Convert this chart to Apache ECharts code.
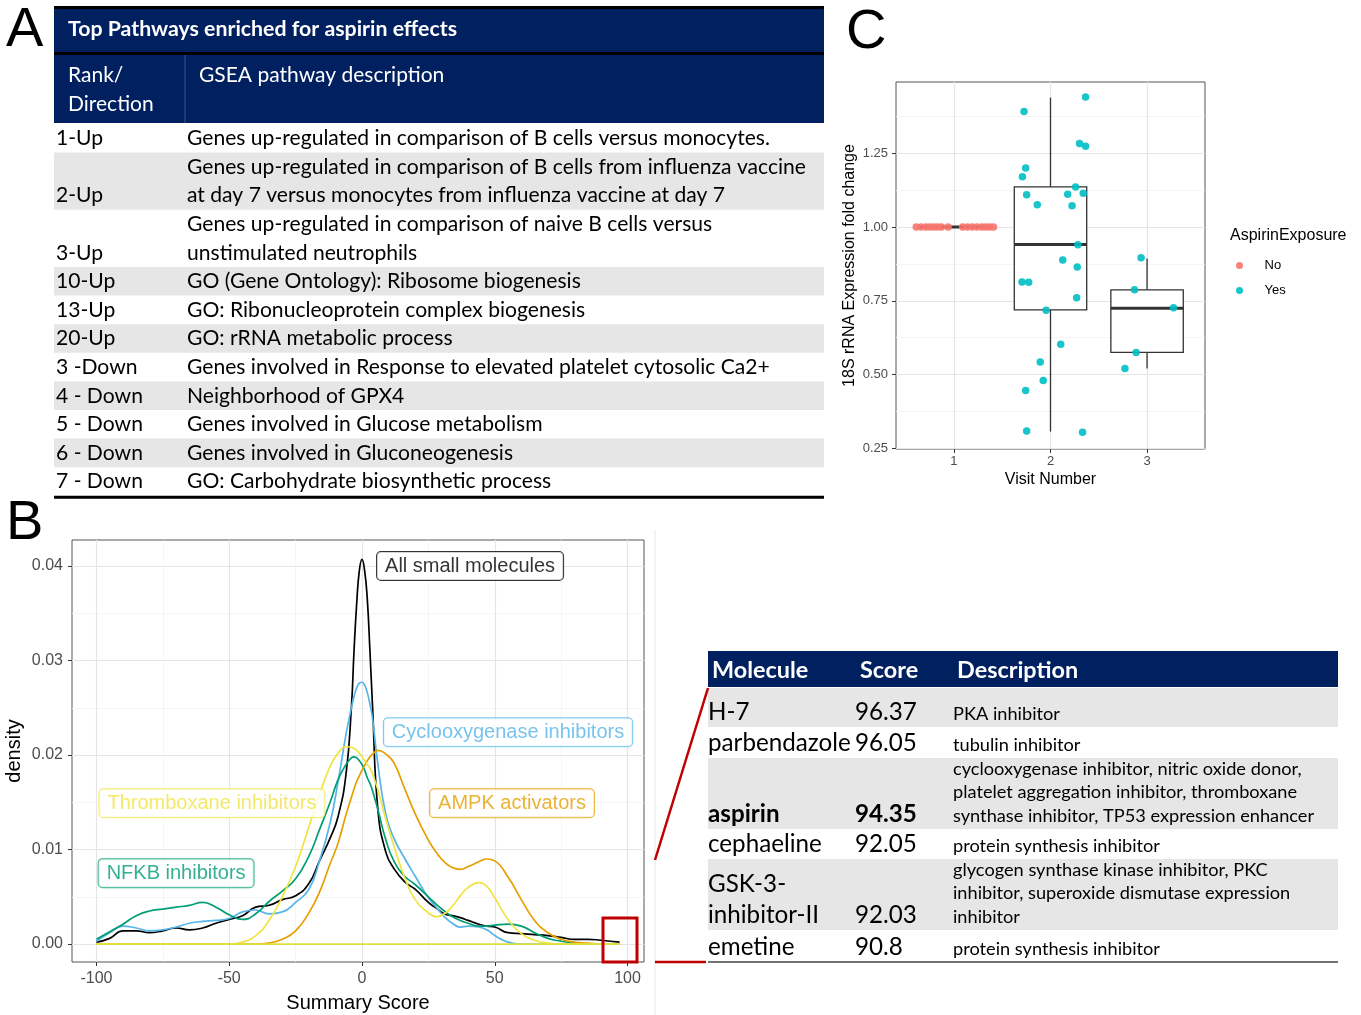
<!DOCTYPE html>
<html>
<head>
<meta charset="utf-8">
<script src="https://cdn.jsdelivr.net/npm/echarts/dist/echarts.min.js"></script>
<style>
html, body { margin: 0; padding: 0; background: #fff; }
#main { width: 1361px; height: 1015px; }
</style>
</head>
<body>
<div id="main"></div>
<script>
// panel A table
var pathwayRank = ['1-Up', '2-Up', '3-Up', '10-Up', '13-Up', '20-Up', '3 -Down', '4 - Down', '5 - Down', '6 - Down', '7 - Down'];
var pathwayDesc = [
	['Genes up-regulated in comparison of B cells versus monocytes.'],
	['Genes up-regulated in comparison of B cells from influenza vaccine', 'at day 7 versus monocytes from influenza vaccine at day 7'],
	['Genes up-regulated in comparison of naive B cells versus', 'unstimulated neutrophils'],
	['GO (Gene Ontology): Ribosome biogenesis'],
	['GO: Ribonucleoprotein complex biogenesis'],
	['GO: rRNA metabolic process'],
	['Genes involved in Response to elevated platelet cytosolic Ca2+'],
	['Neighborhood of GPX4'],
	['Genes involved in Glucose metabolism'],
	['Genes involved in Gluconeogenesis'],
	['GO: Carbohydrate biosynthetic process']
];

// panel B densities
var scoreGrid = [-100, -95, -90, -85, -80, -75, -70, -65, -60, -55, -50, -45, -40, -35, -30, -25, -20, -16, -12, -9, -6, -4, -3, -2, -1,
	0, 1, 2, 3, 4, 6, 9, 12, 16, 20, 25, 28, 31, 34, 37, 40, 44, 47, 50, 55, 60, 65, 70, 75, 80, 85, 90, 97];
var allDensity = [.0002, .0006, .0014, .0014, .0012, .0014, .0017, .0015, .0017, .0022, .0026, .0030, .0039, .0041, .0047, .0051, .0064, .0088, .0112, .0135, .0180, .0250, .0310, .0360, .0395,
	.0407, .0395, .0365, .0310, .0250, .0142, .0097, .0080, .0066, .0058, .0044, .0038, .0032, .0030, .0028, .0025, .0021, .0019, .0018,
	.0012, .0011, .0010, .0009, .0007, .0005, .0005, .0004, .0002];
var coxDensity = [.0003, .0012, .0019, .0017, .0014, .0015, .0018, .0022, .0024, .0025, .0027, .0034, .0036, .0032, .0034, .0044, .0058, .0088, .0128, .0172, .0222, .0250, .0262, .0271, .0276,
	.0277, .0274, .0266, .0254, .0238, .0190, .0137, .0112, .0091, .0072, .0049, .0039, .0029, .0022, .0018, .0019, .0018, .0015, .0009,
	.0002, 0, 0, 0, 0, 0, 0, 0, 0];
var nfkbDensity = [.0005, .0013, .0021, .0030, .0035, .0037, .0039, .0041, .0044, .0039, .0031, .0026, .0032, .0045, .0056, .0069, .0093, .0121, .0150, .0174, .0190, .0197, .0198, .0197, .0194,
	.0190, .0184, .0176, .0170, .0162, .0142, .0110, .0088, .0072, .0063, .0050, .0042, .0035, .0029, .0025, .0022, .0019, .0019, .0020,
	.0021, .0019, .0012, .0006, .0003, .0001, 0, 0, 0];
var ampkDensity = [0, 0, 0, 0, 0, 0, 0, 0, 0, 0, 0, 0, 0, .0001, .0005, .0014, .0033, .0055, .0085, .0107, .0137, .0155, .0164, .0172, .0178,
	.0184, .0189, .0194, .0198, .0201, .0205, .0201, .0192, .0165, .0138, .0110, .0097, .0087, .0081, .0079, .0082, .0087, .0090, .0088,
	.0071, .0047, .0025, .0012, .0005, .0002, .0001, 0, 0];
var thrombDensity = [0, 0, 0, 0, 0, 0, 0, 0, 0, 0, 0, .0002, .0009, .0025, .0050, .0082, .0124, .0158, .0188, .0202, .0209, .0208, .0207, .0205, .0202,
	.0198, .0194, .0190, .0186, .0180, .0163, .0132, .0104, .0071, .0047, .0033, .0029, .0032, .0040, .0051, .0060, .0065, .0061, .0049,
	.0026, .0011, .0004, .0001, 0, 0, 0, 0, 0];
var scoreTicks = [-100, -50, 0, 50, 100];
var scoreMinor = [-75, -25, 25, 75];
var densityTicks = [0, 0.01, 0.02, 0.03, 0.04];
var densityMinor = [0.005, 0.015, 0.025, 0.035];

var labelText = ['All small molecules', 'Cyclooxygenase inhibitors', 'Thromboxane inhibitors', 'AMPK activators', 'NFKB inhibitors'];
var labelX = [40.7, 55, -56.5, 56.5, -70];
var labelY = [0.04, 0.0224, 0.0149, 0.0149, 0.0075];

// panel B table
var molName = [['H-7'], ['parbendazole'], ['aspirin'], ['cephaeline'], ['GSK-3-', 'inhibitor-II'], ['emetine']];
var molScore = [96.37, 96.05, 94.35, 92.05, 92.03, 90.8];
var molDesc = [
	['PKA inhibitor'],
	['tubulin inhibitor'],
	['cyclooxygenase inhibitor, nitric oxide donor,', 'platelet aggregation inhibitor, thromboxane', 'synthase inhibitor, TP53 expression enhancer'],
	['protein synthesis inhibitor'],
	['glycogen synthase kinase inhibitor, PKC', 'inhibitor, superoxide dismutase expression', 'inhibitor'],
	['protein synthesis inhibitor']
];

// panel C
var noX = [0.61, 0.66, 0.71, 0.75, 0.79, 0.83, 0.87, 0.94, 1.09, 1.14, 1.19, 1.24, 1.29, 1.33, 1.37, 1.41];
var noY = [1, 1, 1, 1, 1, 1, 1, 1, 1, 1, 1, 1, 1, 1, 1, 1];
var yesX = [1.726, 2.363, 2.301, 2.363, 1.743, 1.709, 1.753, 1.863, 2.178, 2.260, 2.223, 2.339, 2.284, 2.127, 2.277, 1.705, 1.774, 2.271, 1.955, 2.106, 1.894, 1.925, 1.743, 1.753, 2.332,
	2.938, 2.870, 3.274, 2.887, 2.771];
var yesY = [1.391, 1.440, 1.283, 1.273, 1.200, 1.170, 1.109, 1.075, 1.111, 1.135, 1.072, 1.114, 0.940, 0.888, 0.864, 0.814, 0.813, 0.760, 0.718, 0.603, 0.543, 0.480, 0.446, 0.309, 0.305,
	0.896, 0.787, 0.726, 0.575, 0.521];
var boxVisit = [1, 2, 3];
var boxLow = [1, 0.307, 0.521];
var boxQ1 = [1, 0.719, 0.575];
var boxMed = [1, 0.941, 0.725];
var boxQ3 = [1, 1.136, 0.787];
var boxHigh = [1, 1.438, 0.893];
var visitTicks = [1, 2, 3];
var foldTicks = [0.25, 0.5, 0.75, 1, 1.25];
var foldMinor = [0.375, 0.625, 0.875, 1.125, 1.375];

var NAVY = '#002060';
var ROWGRAY = '#e6e6e6';
var TFONT = 'Lato';
var PFONT = 'Liberation Sans';

function txt(text, x, y, font, color, align) {
	return {
		type: 'text', z: 100,
		style: {
			text: text, x: x, y: y, font: font, fill: color || '#000',
			align: align || 'left', textAlign: align || 'left',
			verticalAlign: 'middle', textVerticalAlign: 'middle'
		}
	};
}
function box(x, y, w, h, color) {
	return { type: 'rect', z: 90, shape: { x: x, y: y, width: w, height: h }, style: { fill: color } };
}
function seg(x1, y1, x2, y2, color, width) {
	return { type: 'line', z: 95, shape: { x1: x1, y1: y1, x2: x2, y2: y2 }, style: { stroke: color, lineWidth: width } };
}

var graphics = [];

// 表 A
graphics.push(box(54, 6, 770, 3, '#000'));
graphics.push(box(54, 9, 770, 43, NAVY));
graphics.push(box(54, 52, 770, 3, '#000'));
graphics.push(box(54, 55, 770, 68, NAVY));
graphics.push(seg(185, 55, 185, 123, '#3a5186', 1));
graphics.push(txt('Top Pathways enriched for aspirin effects', 68, 29, 'bold 21.3px ' + TFONT, '#fff'));
graphics.push(txt('Rank/', 68, 75, '21px ' + TFONT, '#fff'));
graphics.push(txt('Direction', 68, 104, '21px ' + TFONT, '#fff'));
graphics.push(txt('GSEA pathway description', 199, 75, '21px ' + TFONT, '#fff'));

var ROW_H = 28.6;
var rowY = 124;
for (var i = 0; i < pathwayRank.length; i++) {
	var lines = pathwayDesc[i];
	var h = ROW_H * lines.length;
	if (i % 2 === 1) {
		graphics.push(box(54, rowY, 770, h, ROWGRAY));
	}
	for (var j = 0; j < lines.length; j++) {
		graphics.push(txt(lines[j], 187, rowY + ROW_H * (j + 0.5), '21.1px ' + TFONT));
	}
	graphics.push(txt(pathwayRank[i], 56, rowY + h - ROW_H / 2, '21.1px ' + TFONT));
	rowY += h;
}
graphics.push(box(54, rowY, 770, 3, '#000'));

// 右下表
var molRowH = [39, 31, 71, 30, 71, 32];
graphics.push(box(708, 651, 630, 36, NAVY));
graphics.push(txt('Molecule', 712, 670, 'bold 23.4px ' + TFONT, '#fff'));
graphics.push(txt('Score', 860, 670, 'bold 23.4px ' + TFONT, '#fff'));
graphics.push(txt('Description', 957, 670, 'bold 23.4px ' + TFONT, '#fff'));
var my = 688;
for (var i = 0; i < molName.length; i++) {
	var bottom = my + molRowH[i];
	if (i % 2 === 0) {
		graphics.push(box(708, my, 630, molRowH[i], ROWGRAY));
	}
	var weight = molName[i][0] === 'aspirin' ? 'bold ' : '';
	var names = molName[i];
	for (var j = 0; j < names.length; j++) {
		graphics.push(txt(names[j], 708, bottom - 15 - 31 * (names.length - 1 - j), weight + '24.2px ' + TFONT));
	}
	graphics.push(txt(String(molScore[i]), 855, bottom - 15, weight + '24.2px ' + TFONT));
	var ds = molDesc[i];
	for (var j = 0; j < ds.length; j++) {
		graphics.push(txt(ds[j], 953, bottom - 13 - 23.5 * (ds.length - 1 - j), '18.2px ' + TFONT));
	}
	my = bottom;
}
graphics.push(seg(708, 962, 1338, 962, '#444', 1.5));

// 连接线和红框
graphics.push(seg(655, 530, 655, 1015, '#e8e8e8', 1));
graphics.push({ type: 'rect', z: 96, shape: { x: 603, y: 918, width: 34, height: 44 }, style: { fill: 'none', stroke: '#c00000', lineWidth: 3 } });
graphics.push(seg(655, 860, 708, 688, '#c00000', 2.5));
graphics.push(seg(655, 962, 706, 962, '#c00000', 2.5));

// 面板字母
['A', 'B', 'C'].forEach(function (l, k) {
	var pos = [[6, 31], [6, 524], [846, 33]][k];
	graphics.push({
		type: 'text', z: 100,
		style: {
			text: l, x: pos[0], y: pos[1], font: '56px ' + PFONT, fill: '#000',
			verticalAlign: 'middle', textVerticalAlign: 'middle',
			shadowColor: 'rgba(0,0,0,0.35)', shadowBlur: 3, shadowOffsetX: 2, shadowOffsetY: 2
		}
	});
});
graphics.push(txt('AspirinExposure', 1230, 236, '16px ' + PFONT, '#000'));

function majorAxis(grid, min, max, ticks, fmt, size, margin) {
	return {
		gridIndex: grid, type: 'value', min: min, max: max,
		axisLine: { show: false, onZero: false },
		axisTick: { show: true, length: 4, lineStyle: { color: '#333' }, customValues: ticks },
		axisLabel: { customValues: ticks, color: '#4d4d4d', fontSize: size, fontFamily: PFONT, margin: margin, formatter: fmt },
		splitLine: { show: true, lineStyle: { color: '#e5e5e5', width: 1.2 } }
	};
}
function minorAxis(grid, min, max, ticks) {
	return {
		gridIndex: grid, type: 'value', min: min, max: max,
		axisLine: { show: false, onZero: false },
		axisTick: { show: false, customValues: ticks },
		axisLabel: { show: false, customValues: ticks },
		splitLine: { show: true, lineStyle: { color: '#f2f2f2', width: 0.8 } }
	};
}
function fix2(v) { return v.toFixed(2); }

var bx = majorAxis(0, -109.2, 106.2, scoreTicks, null, 16, 9);
bx.name = 'Summary Score';
bx.nameLocation = 'middle';
bx.nameGap = 31;
bx.nameTextStyle = { fontSize: 20, color: '#000', fontFamily: PFONT };
var by = majorAxis(0, -0.0019, 0.04275, densityTicks, fix2, 16, 9);
by.name = 'density';
by.nameLocation = 'middle';
by.nameGap = 48;
by.nameTextStyle = { fontSize: 20, color: '#000', fontFamily: PFONT };
var cx = majorAxis(1, 0.4, 3.6, visitTicks, null, 13, 6);
cx.name = 'Visit Number';
cx.nameLocation = 'middle';
cx.nameGap = 23;
cx.nameTextStyle = { fontSize: 16, color: '#000', fontFamily: PFONT };
var cy = majorAxis(1, 0.248, 1.491, foldTicks, fix2, 13, 8);
cy.name = '18S rRNA Expression fold change';
cy.nameLocation = 'middle';
cy.nameGap = 38;
cy.nameTextStyle = { fontSize: 16, color: '#000', fontFamily: PFONT };

function densitySeries(name, values, color) {
	var data = [];
	for (var i = 0; i < scoreGrid.length; i++) {
		data.push([scoreGrid[i], values[i]]);
	}
	return {
		name: name, type: 'line', xAxisIndex: 0, yAxisIndex: 0,
		data: data, showSymbol: false, smooth: 0.5,
		lineStyle: { color: color, width: 1.7 }, itemStyle: { color: color },
		silent: true
	};
}

var labelColor = ['#000000', '#56B4E9', '#F0E442', '#E69F00', '#009E73'];
var labelData = labelText.map(function (t, i) {
	return {
		value: [labelX[i], labelY[i]],
		label: { formatter: t, color: labelColor[i], borderColor: labelColor[i] }
	};
});

var myChart = echarts.init(document.getElementById('main'));
myChart.setOption({
	animation: false,
	textStyle: { fontFamily: PFONT },
	grid: [
		{ left: 72, top: 540, width: 572, height: 422, show: true, borderColor: '#555', borderWidth: 1, backgroundColor: '#fff' },
		{ left: 896, top: 82, width: 309, height: 367, show: true, borderColor: '#555', borderWidth: 1, backgroundColor: '#fff' }
	],
	legend: {
		data: ['No', 'Yes'], orient: 'vertical', left: 1231, top: 254,
		itemWidth: 24, itemHeight: 7, itemGap: 12, icon: 'circle', selectedMode: false,
		textStyle: { fontSize: 13, color: '#000', fontFamily: PFONT, padding: [0, 0, 0, 8] }
	},
	xAxis: [bx, minorAxis(0, -109.2, 106.2, scoreMinor), cx],
	yAxis: [by, minorAxis(0, -0.0019, 0.04275, densityMinor), cy, minorAxis(1, 0.248, 1.491, foldMinor)],
	graphic: graphics,
	series: [
		densitySeries('All small molecules', allDensity, '#000000'),
		densitySeries('Cyclooxygenase inhibitors', coxDensity, '#56B4E9'),
		densitySeries('NFKB inhibitors', nfkbDensity, '#009E73'),
		densitySeries('AMPK activators', ampkDensity, '#E69F00'),
		densitySeries('Thromboxane inhibitors', thrombDensity, '#F0E442'),
		{
			name: 'baseline', type: 'line', xAxisIndex: 0, yAxisIndex: 0, showSymbol: false, silent: true,
			data: [[scoreGrid[0], 0], [scoreGrid[scoreGrid.length - 1], 0]],
			lineStyle: { color: '#dfe03f', width: 1.8 }
		},
		{
			name: 'labels', type: 'scatter', xAxisIndex: 0, yAxisIndex: 0, silent: true,
			symbolSize: 1, itemStyle: { color: 'rgba(0,0,0,0)' }, z: 20,
			label: {
				show: true, position: 'inside', fontSize: 20, fontFamily: PFONT,
				backgroundColor: '#fff', borderWidth: 1, borderRadius: 4, padding: [4, 8]
			},
			data: labelData
		},
		{
			name: 'box', type: 'custom', xAxisIndex: 2, yAxisIndex: 2, silent: true,
			encode: { x: 0, y: [1, 2, 3, 4, 5] },
			data: boxVisit.map(function (v, i) {
				return [v, boxLow[i], boxQ1[i], boxMed[i], boxQ3[i], boxHigh[i]];
			}),
			renderItem: function (params, api) {
				var x = api.value(0);
				var lo = api.coord([x, api.value(1)]);
				var q1 = api.coord([x, api.value(2)]);
				var md = api.coord([x, api.value(3)]);
				var q3 = api.coord([x, api.value(4)]);
				var hi = api.coord([x, api.value(5)]);
				var half = api.size([0.75, 0])[0] / 2;
				var st = { stroke: '#333', lineWidth: 1.3, fill: null };
				return {
					type: 'group',
					children: [
						{ type: 'line', shape: { x1: hi[0], y1: hi[1], x2: q3[0], y2: q3[1] }, style: st },
						{ type: 'line', shape: { x1: q1[0], y1: q1[1], x2: lo[0], y2: lo[1] }, style: st },
						{ type: 'rect', shape: { x: q3[0] - half, y: q3[1], width: half * 2, height: q1[1] - q3[1] }, style: { stroke: '#333', lineWidth: 1.3, fill: '#fff' } },
						{ type: 'line', shape: { x1: md[0] - half, y1: md[1], x2: md[0] + half, y2: md[1] }, style: { stroke: '#333', lineWidth: 3 } }
					]
				};
			}
		},
		{
			name: 'No', type: 'scatter', xAxisIndex: 2, yAxisIndex: 2, symbolSize: 7.5,
			itemStyle: { color: '#F8766D', opacity: 0.9 },
			data: noX.map(function (v, i) { return [v, noY[i]]; })
		},
		{
			name: 'Yes', type: 'scatter', xAxisIndex: 2, yAxisIndex: 2, symbolSize: 7.5,
			itemStyle: { color: '#00BFC4', opacity: 0.9 },
			data: yesX.map(function (v, i) { return [v, yesY[i]]; })
		}
	]
});
</script>
</body>
</html>
